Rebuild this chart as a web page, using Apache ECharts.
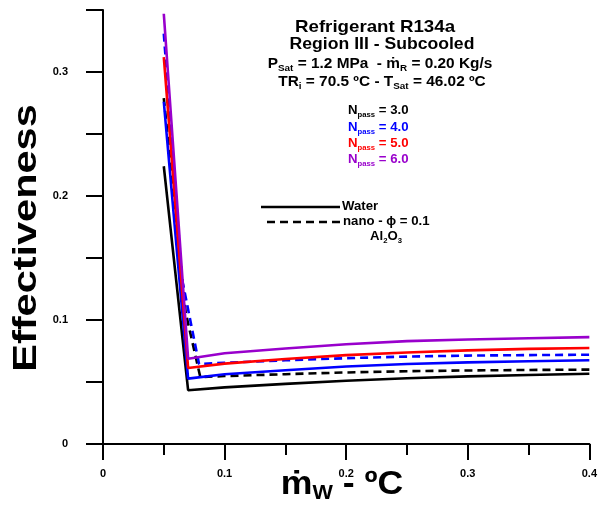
<!DOCTYPE html>
<html>
<head>
<meta charset="utf-8">
<script src="https://cdn.jsdelivr.net/npm/echarts@6/dist/echarts.min.js"></script>
<style>html,body{margin:0;padding:0;background:#fff}#c{width:600px;height:517px}</style>
</head>
<body>
<div id="c"></div>
<script>
// ---- data ----
const xWater = [0.05, 0.07, 0.1, 0.15, 0.2, 0.25, 0.3, 0.35, 0.4];
const n3Water = [0.224, 0.0434, 0.0457, 0.0485, 0.051, 0.053, 0.0545, 0.0557, 0.0566];
const n4Water = [0.276, 0.0527, 0.0562, 0.0595, 0.0625, 0.0645, 0.0658, 0.0667, 0.0675];
const n5Water = [0.312, 0.0613, 0.0648, 0.0685, 0.0717, 0.0738, 0.0755, 0.0767, 0.0774];
const n6Water = [0.347, 0.0688, 0.0732, 0.077, 0.0805, 0.083, 0.0843, 0.0853, 0.0862];
const xNano3 = [0.05, 0.068, 0.08, 0.1, 0.15, 0.2, 0.25, 0.3, 0.35, 0.4];
const n3Nano = [0.279, 0.106, 0.054, 0.0548, 0.0563, 0.0577, 0.0587, 0.0593, 0.0597, 0.060];
const xNano4 = [0.05, 0.065, 0.079, 0.1, 0.15, 0.2, 0.25, 0.3, 0.35, 0.4];
const n4Nano = [0.331, 0.133, 0.0645, 0.0655, 0.0675, 0.0692, 0.0705, 0.0713, 0.0717, 0.072];
const xTicks = [0, 0.1, 0.2, 0.3, 0.4];
const yTickLabels = [0, 0.1, 0.2, 0.3];

const zip = (xs, ys) => xs.map((x, i) => [x, ys[i]]);
const FONT = '"Liberation Sans", Arial, sans-serif';
const BLACK = '#000000', BLUE = '#0000ff', RED = '#ff0000', PURPLE = '#9900cc';

function line(name, data, color, dashed) {
  return {
    name, type: 'line', data, showSymbol: false, symbol: 'none', silent: true,
    lineStyle: { color, width: 2.6, type: dashed ? [8, 5] : 'solid' },
    animation: false
  };
}

const chart = echarts.init(document.getElementById('c'));
function subRich(size, color) {
  const ss = Math.round(size * 0.62);
  return {
    m: { fontSize: size, fontWeight: 'bold', fontFamily: FONT, fill: color, lineHeight: size + 4 },
    s: { fontSize: ss, fontWeight: 'bold', fontFamily: FONT, fill: color, verticalAlign: 'bottom', lineHeight: ss + 1 }
  };
}
const SX = 1.1;
const graphics = [
  { type: 'text', x: 375, y: 27, scaleX: SX, style: { text: 'Refrigerant R134a', font: 'bold 17px ' + FONT, fill: '#000', align: 'center', verticalAlign: 'middle' } },
  { type: 'text', x: 382, y: 45, scaleX: SX, style: { text: 'Region III - Subcooled', font: 'bold 16px ' + FONT, fill: '#000', align: 'center', verticalAlign: 'middle' } },
  { type: 'text', x: 380, y: 64, scaleX: SX, style: { text: '{m|P}{s|Sat}{m| = 1.2 MPa  - ṁ}{s|R}{m| = 0.20 Kg/s}', rich: subRich(14, '#000'), align: 'center', verticalAlign: 'middle' } },
  { type: 'text', x: 382, y: 82, scaleX: SX, style: { text: '{m|TR}{s|i}{m| = 70.5 ºC - T}{s|Sat}{m| = 46.02 ºC}', rich: subRich(14, '#000'), align: 'center', verticalAlign: 'middle' } },
  { type: 'text', x: 348, y: 111, scaleX: SX, style: { text: '{m|N}{s|pass}{m| = 3.0}', rich: subRich(12, BLACK), align: 'left', verticalAlign: 'middle' } },
  { type: 'text', x: 348, y: 128, scaleX: SX, style: { text: '{m|N}{s|pass}{m| = 4.0}', rich: subRich(12, BLUE), align: 'left', verticalAlign: 'middle' } },
  { type: 'text', x: 348, y: 144, scaleX: SX, style: { text: '{m|N}{s|pass}{m| = 5.0}', rich: subRich(12, RED), align: 'left', verticalAlign: 'middle' } },
  { type: 'text', x: 348, y: 160, scaleX: SX, style: { text: '{m|N}{s|pass}{m| = 6.0}', rich: subRich(12, PURPLE), align: 'left', verticalAlign: 'middle' } },
  { type: 'line', shape: { x1: 261, y1: 207, x2: 340, y2: 207 }, style: { stroke: '#000', lineWidth: 2.6 } },
  { type: 'line', shape: { x1: 267, y1: 222, x2: 340, y2: 222 }, style: { stroke: '#000', lineWidth: 2.6, lineDash: [8, 5] } },
  { type: 'text', x: 342, y: 207, scaleX: SX, style: { text: 'Water', font: 'bold 12px ' + FONT, fill: '#000', align: 'left', verticalAlign: 'middle' } },
  { type: 'text', x: 343, y: 222, scaleX: SX, style: { text: 'nano - ϕ = 0.1', font: 'bold 12px ' + FONT, fill: '#000', align: 'left', verticalAlign: 'middle' } },
  { type: 'text', x: 370, y: 237, scaleX: SX, style: { text: '{m|Al}{s|2}{m|O}{s|3}', rich: subRich(12, '#000'), align: 'left', verticalAlign: 'middle' } },
  { type: 'text', x: 27, y: 238, rotation: Math.PI / 2, scaleX: 1.22, style: { text: 'Effectiveness', font: 'bold 34px ' + FONT, fill: '#000', align: 'center', verticalAlign: 'middle' } },
  { type: 'text', x: 342, y: 485, scaleX: 1.08, style: { text: '{m|ṁ}{s|W}{m| - ºC}', rich: { m: { fontSize: 33, fontWeight: 'bold', fontFamily: FONT, fill: '#000', lineHeight: 36 }, s: { fontSize: 20, fontWeight: 'bold', fontFamily: FONT, fill: '#000', verticalAlign: 'bottom', lineHeight: 22 } }, align: 'center', verticalAlign: 'middle' } }
];

chart.setOption({
  animation: false,
  backgroundColor: '#fff',
  grid: { left: 103, right: 9, top: 10, bottom: 73, containLabel: false },
  xAxis: {
    type: 'value', min: 0, max: 0.4, interval: 0.1,
    axisLine: { show: true, onZero: false, lineStyle: { color: '#000', width: 2 } },
    axisTick: { show: true, length: 16, lineStyle: { color: '#000', width: 2 } },
    minorTick: { show: true, splitNumber: 2, length: 11, lineStyle: { color: '#000', width: 2 } },
    splitLine: { show: false },
    axisLabel: { color: '#000', fontWeight: 'bold', fontSize: 11, fontFamily: FONT, margin: 24,
      formatter: v => xTicks.some(t => Math.abs(t - v) < 1e-9) ? String(+v.toFixed(1)) : '' }
  },
  yAxis: {
    type: 'value', min: 0, max: 0.35, interval: 0.05,
    axisLine: { show: true, onZero: false, lineStyle: { color: '#000', width: 2 } },
    axisTick: { show: true, length: 17, lineStyle: { color: '#000', width: 2 } },
    splitLine: { show: false },
    axisLabel: { color: '#000', fontWeight: 'bold', fontSize: 11, fontFamily: FONT, margin: 35,
      formatter: v => yTickLabels.some(t => Math.abs(t - v) < 1e-9) ? String(+v.toFixed(1)) : '' }
  },
  series: [
    line('N3 water', zip(xWater, n3Water), BLACK, false),
    line('N3 nano', zip(xNano3, n3Nano), BLACK, true),
    line('N4 water', zip(xWater, n4Water), BLUE, false),
    line('N4 nano', zip(xNano4, n4Nano), BLUE, true),
    line('N5 water', zip(xWater, n5Water), RED, false),
    line('N6 water', zip(xWater, n6Water), PURPLE, false)
  ],
  graphic: graphics
});
</script>
</body>
</html>
